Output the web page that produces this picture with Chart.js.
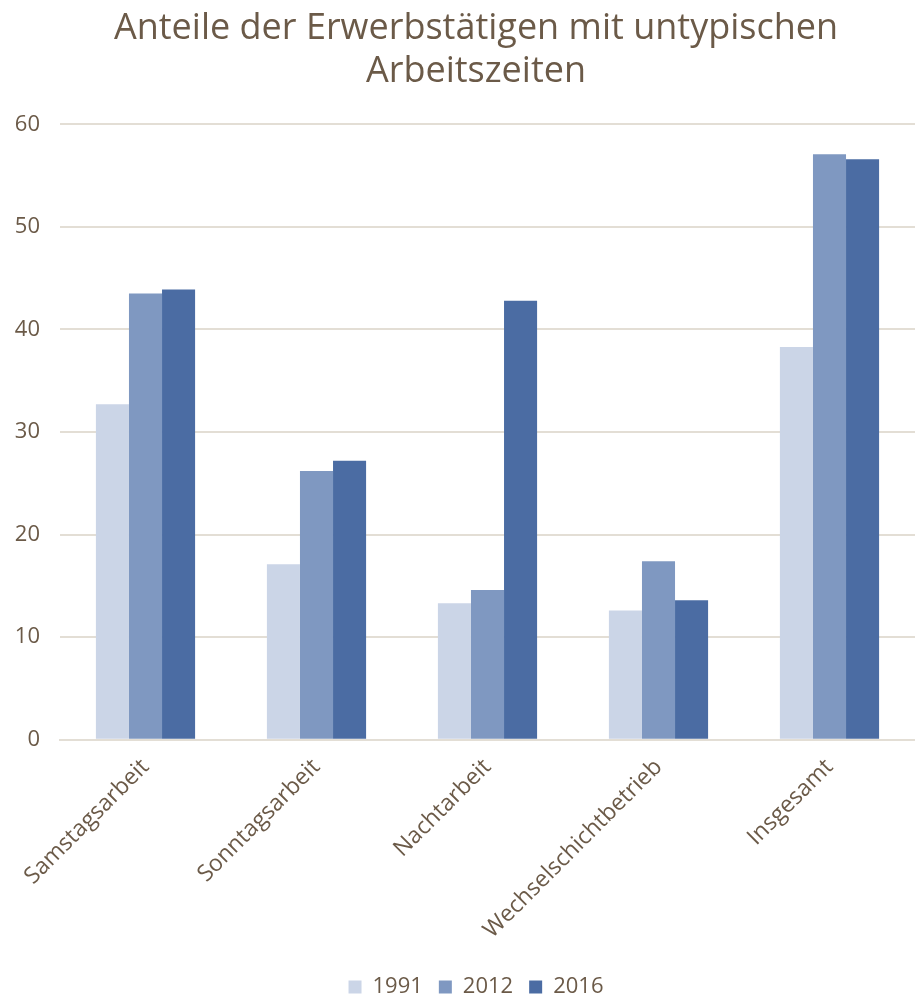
<!DOCTYPE html>
<html>
<head>
<meta charset="utf-8">
<script src="https://cdn.jsdelivr.net/npm/chart.js@4/dist/chart.umd.min.js"></script>
<style>
  html, body { margin: 0; padding: 0; background: #ffffff; }
  #wrap { width: 915px; height: 995px; }
</style>
</head>
<body>
<div id="wrap"><canvas id="chart" width="915" height="995"></canvas></div>
<script>
// Anteile der Erwerbstätigen (in %) nach Art der untypischen Arbeitszeit
const categories = ['Samstagsarbeit', 'Sonntagsarbeit', 'Nachtarbeit', 'Wechselschichtbetrieb', 'Insgesamt'];
const years = ['1991', '2012', '2016'];
const values1991 = [32.7, 17.1, 13.3, 12.6, 38.3];
const values2012 = [43.5, 26.2, 14.6, 17.4, 57.1];
const values2016 = [43.9, 27.2, 42.8, 13.6, 56.6];
const yTicks = [0, 10, 20, 30, 40, 50, 60];

const textColor = '#6b5a48';
const gridColor = '#e3ded5';
const barColors = ['#cbd5e7', '#7f98c1', '#4b6ca3'];
const fontFamily = "'Open Sans', 'Noto Sans', sans-serif";

const series = [values1991, values2012, values2016];

// The y axis box is kept narrow; widen its label clip area to the canvas edge.
const widenYLabels = {
  id: 'widenYLabels',
  afterLayout(chart) { chart.scales.y.left = 0; }
};

new Chart(document.getElementById('chart'), {
  type: 'bar',
  data: {
    labels: categories,
    datasets: series.map((vals, i) => ({
      label: years[i],
      data: vals,
      backgroundColor: barColors[i],
      borderWidth: 0,
      barPercentage: 1.0,
      categoryPercentage: 0.58
    }))
  },
  plugins: [widenYLabels],
  options: {
    responsive: false,
    animation: false,
    layout: { padding: { left: 37, right: 0, top: 0, bottom: -13 } },
    plugins: {
      title: {
        display: true,
        text: ['Anteile der Erwerbstätigen mit untypischen', 'Arbeitszeiten'],
        color: textColor,
        font: { family: fontFamily, size: 36, weight: 'normal' },
        padding: { top: 7, bottom: 31 },
        lineHeight: 1.2
      },
      legend: {
        position: 'bottom',
        labels: {
          color: textColor,
          font: { family: fontFamily, size: 22 },
          boxWidth: 13,
          boxHeight: 13,
          padding: 16
        }
      },
      tooltip: { enabled: false }
    },
    scales: {
      x: {
        grid: { display: false },
        border: { display: true, color: gridColor, width: 2 },
        ticks: {
          color: textColor,
          font: { family: fontFamily, size: 23 },
          minRotation: 45,
          maxRotation: 45,
          padding: 6
        },
        // rotated labels may overhang to the left of the plot;
        // keep some free space between the labels and the legend
        afterFit: (s) => { s.paddingLeft = 0; s.height += 10; }
      },
      y: {
        min: 0,
        max: 60,
        afterBuildTicks: (axis) => { axis.ticks = yTicks.map(v => ({ value: v })); },
        afterFit: (s) => { s.width = 23; },
        grid: { color: gridColor, lineWidth: 2, drawTicks: false },
        border: { display: false },
        ticks: {
          color: textColor,
          font: { family: fontFamily, size: 22 },
          padding: 20
        }
      }
    }
  }
});
</script>
</body>
</html>
